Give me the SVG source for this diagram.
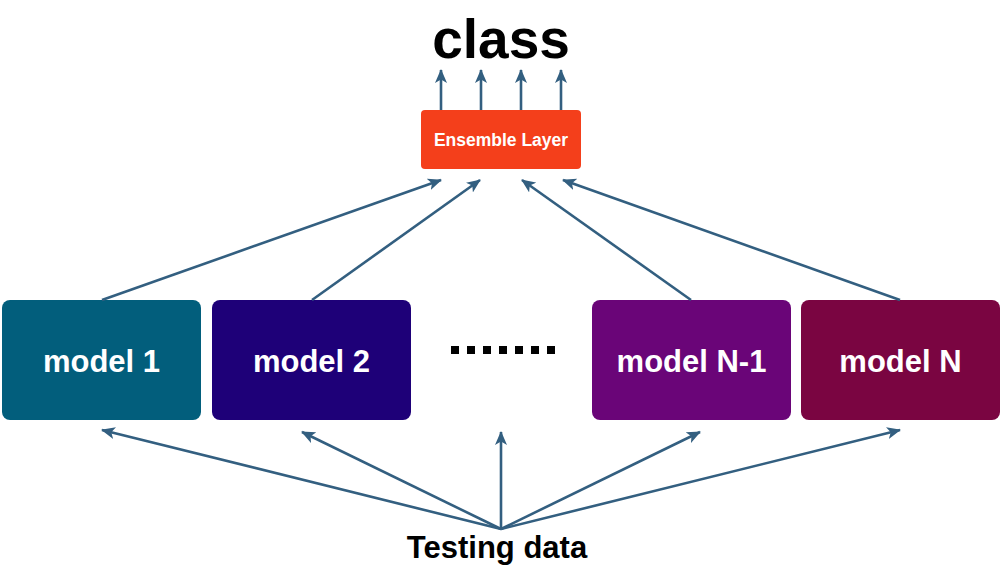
<svg xmlns="http://www.w3.org/2000/svg" width="1002" height="566" viewBox="0 0 1002 566">
<defs>
<style>
.lbl{font-family:"Liberation Sans",Arial,sans-serif;font-weight:bold;text-anchor:middle}
.w{fill:#ffffff}
.conn line{stroke:#335f80;stroke-width:2.6;marker-end:url(#ah)}
.dot{fill:#000000}
</style>
<marker id="ah" markerWidth="14" markerHeight="12" refX="13" refY="6" orient="auto" markerUnits="userSpaceOnUse">
<path d="M0,0 L14,6 L0,12 L3.5,6 Z" fill="#335f80"/>
</marker>
</defs>
<rect width="1002" height="566" fill="#ffffff"/>
<g id="title"><text class="lbl" x="501" y="58" font-size="55" fill="#000">class</text></g>
<g id="ensemble">
<rect x="421" y="110" width="160" height="59" rx="4" fill="#f43f1b"/>
<text class="lbl w" x="501" y="146" font-size="17.5">Ensemble Layer</text>
</g>
<g id="model1">
<rect x="2" y="300" width="199" height="120" rx="8" fill="#025e7c"/>
<text class="lbl w" x="101.5" y="372" font-size="31">model 1</text>
</g>
<g id="model2">
<rect x="212" y="300" width="199" height="120" rx="8" fill="#1e0078"/>
<text class="lbl w" x="311.5" y="372" font-size="31">model 2</text>
</g>
<g id="ellipsis">
<rect class="dot" x="451" y="346" width="8" height="8"/>
<rect class="dot" x="467" y="346" width="8" height="8"/>
<rect class="dot" x="483" y="346" width="8" height="8"/>
<rect class="dot" x="499" y="346" width="8" height="8"/>
<rect class="dot" x="515" y="346" width="8" height="8"/>
<rect class="dot" x="531" y="346" width="8" height="8"/>
<rect class="dot" x="547" y="346" width="8" height="8"/>
</g>
<g id="modelN-1">
<rect x="592" y="300" width="199" height="120" rx="8" fill="#6a0578"/>
<text class="lbl w" x="691.5" y="372" font-size="31">model N-1</text>
</g>
<g id="modelN">
<rect x="801" y="300" width="199" height="120" rx="8" fill="#7a0541"/>
<text class="lbl w" x="900.5" y="372" font-size="31">model N</text>
</g>
<g id="testing"><text class="lbl" x="497" y="558" font-size="31" fill="#000">Testing data</text></g>
<g class="conn" id="connectors">
<line x1="441" y1="110" x2="441" y2="70"/>
<line x1="481" y1="110" x2="481" y2="70"/>
<line x1="521" y1="110" x2="521" y2="70"/>
<line x1="561" y1="110" x2="561" y2="70"/>
<line x1="102" y1="300" x2="441" y2="180"/>
<line x1="312" y1="300" x2="480" y2="180"/>
<line x1="691" y1="300" x2="522" y2="180"/>
<line x1="900" y1="300" x2="563" y2="180"/>
<line x1="501" y1="529" x2="102" y2="430"/>
<line x1="501" y1="529" x2="302" y2="432"/>
<line x1="501" y1="529" x2="501" y2="432"/>
<line x1="501" y1="529" x2="700" y2="432"/>
<line x1="501" y1="529" x2="900" y2="430"/>
</g>
</svg>
